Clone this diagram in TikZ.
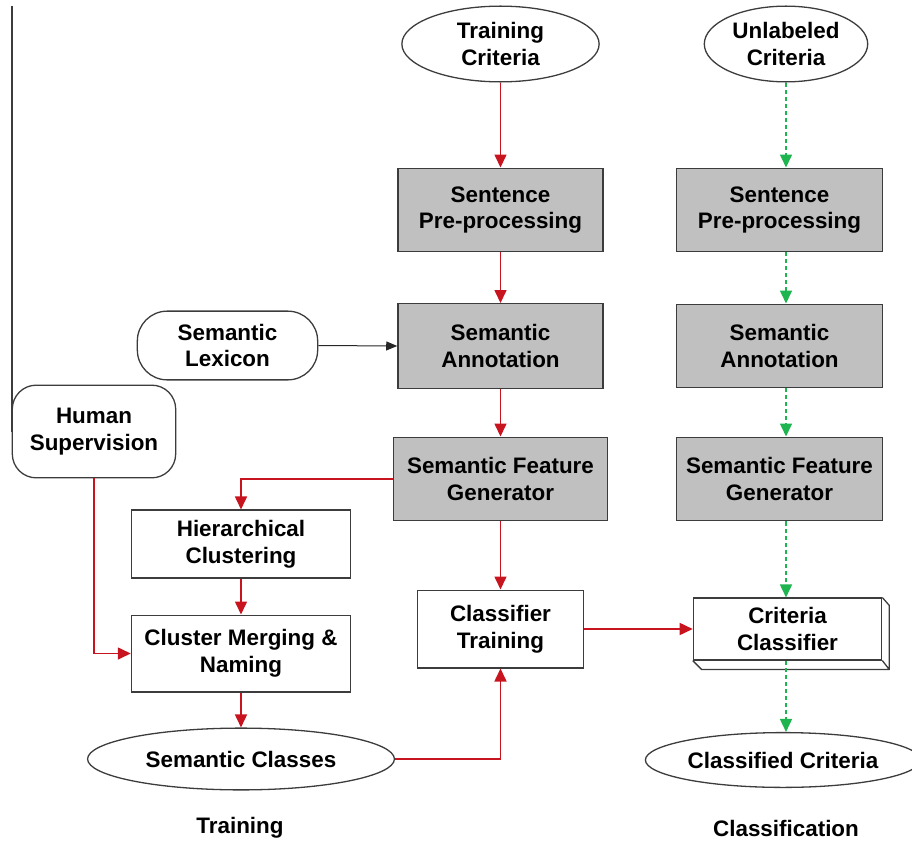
\documentclass[tikz,border=0pt]{standalone}
\usepackage{fontspec}
\setmainfont{Liberation Sans}
\usepackage{tikz}
\usetikzlibrary{arrows.meta, positioning, shapes.geometric}

\definecolor{flowred}{RGB}{200,20,30}
\definecolor{flowgreen}{RGB}{30,180,80}
\definecolor{boxgray}{RGB}{192,192,192}
\definecolor{edgegray}{RGB}{60,60,60}

\begin{document}
\begin{tikzpicture}[
    x=1bp, y=-1bp,
    base/.style={draw=edgegray, line width=1.3bp, align=center, inner sep=2pt,
      font=\fontsize{22.5}{27}\selectfont\bfseries},
    oval/.style={base, ellipse},
    stage/.style={base, rectangle, fill=boxgray},
    plain/.style={base, rectangle},
    soft/.style={base, rectangle, rounded corners=#1},
    redarrow/.style={-{Triangle[length=13bp, width=12bp]}, draw=flowred, line width=1.6bp},
    greenarrow/.style={-{Triangle[length=13bp, width=12bp]}, draw=flowgreen,
      line width=1.6bp, dash pattern=on 4bp off 3bp},
    thinarrow/.style={-{Triangle[length=11bp, width=9bp]}, draw=black!85, line width=1bp},
    caption/.style={font=\fontsize{22.5}{27}\selectfont\bfseries}
]
  \useasboundingbox (0,0) rectangle (912,843);

  % Inputs
  \node[oval, minimum width=198, minimum height=76] (tc) at (500.5,44) {Training\\Criteria};
  \node[oval, minimum width=164, minimum height=76] (uc) at (786,44) {Unlabeled\\Criteria};

  % Training column
  \node[stage, minimum width=206, minimum height=84] (spl) at (500.5,210) {Sentence\\Pre-processing};
  \node[stage, minimum width=206, minimum height=85] (sal) at (500.5,346) {Semantic\\Annotation};
  \node[stage, minimum width=215, minimum height=84] (sfl) at (500.5,479) {Semantic Feature\\Generator};
  \node[plain, minimum width=167, minimum height=78] (ct) at (500.5,629) {Classifier\\Training};

  % Classification column
  \node[stage, minimum width=207, minimum height=84] (spr) at (779.5,210) {Sentence\\Pre-processing};
  \node[stage, minimum width=207, minimum height=84] (sar) at (779.5,346) {Semantic\\Annotation};
  \node[stage, minimum width=207, minimum height=84] (sfr) at (779.5,479) {Semantic Feature\\Generator};
  \node[plain, minimum width=189, minimum height=62] (cc) at (787.5,629) {Criteria\\Classifier};
  \draw[edgegray, line width=1.3bp, line join=round]
    (cc.north east) -- ++(7,8) -- ([shift={(7,9)}]cc.south east) -- ([shift={(9,9)}]cc.south west) -- (cc.south west)
    (cc.south east) -- ++(7,9);
  \node[oval, minimum width=258, minimum height=55] (cfc) at (783,760) {Classified Criteria};

  % Clustering side
  \node[soft=30, minimum width=181, minimum height=69] (lex) at (227.5,345.5) {Semantic\\Lexicon};
  \node[soft=24, minimum width=164, minimum height=93] (hum) at (94,431.5) {Human\\Supervision};
  \node[plain, minimum width=220, minimum height=68] (hc) at (241,544) {Hierarchical\\Clustering};
  \node[plain, minimum width=220, minimum height=77] (cm) at (241,653.5) {Cluster Merging \&\\Naming};
  \node[oval, minimum width=308, minimum height=62] (scl) at (241,759) {Semantic Classes};

  % Stray frame edge
  \coordinate (edge) at (12,6);
  \draw[edgegray, line width=1.3bp] (edge) -- (edge |- hum.west);

  % Column captions
  \node[caption] (trn) at (240,828) {Training};
  \node[caption] (cls) at (786,828) {Classification};

  % Training arrows
  \draw[redarrow] (tc) -- (spl);
  \draw[redarrow] (spl) -- (sal);
  \draw[redarrow] (sal) -- (sfl);
  \draw[redarrow] (sfl) -- (ct);
  \draw[redarrow] (sfl.west) -| (hc.north);
  \draw[redarrow] (hc) -- (cm);
  \draw[redarrow] (hum.south) |- (cm.west);
  \draw[redarrow] (cm) -- (scl);
  \draw[redarrow] (scl.east) -| (ct.south);
  \draw[redarrow] (ct.east) -- (cc.west);
  \draw[thinarrow] (lex.east) -- (sal.west);

  % Classification arrows
  \draw[greenarrow] (uc.south) -- (uc.south |- spr.north);
  \draw[greenarrow] (uc.south |- spr.south) -- (uc.south |- sar.north);
  \draw[greenarrow] (uc.south |- sar.south) -- (uc.south |- sfr.north);
  \draw[greenarrow] (uc.south |- sfr.south) -- (uc.south |- cc.north);
  \draw[greenarrow] (uc.south |- cc.south) -- (uc.south |- cfc.north);
\end{tikzpicture}
\end{document}
